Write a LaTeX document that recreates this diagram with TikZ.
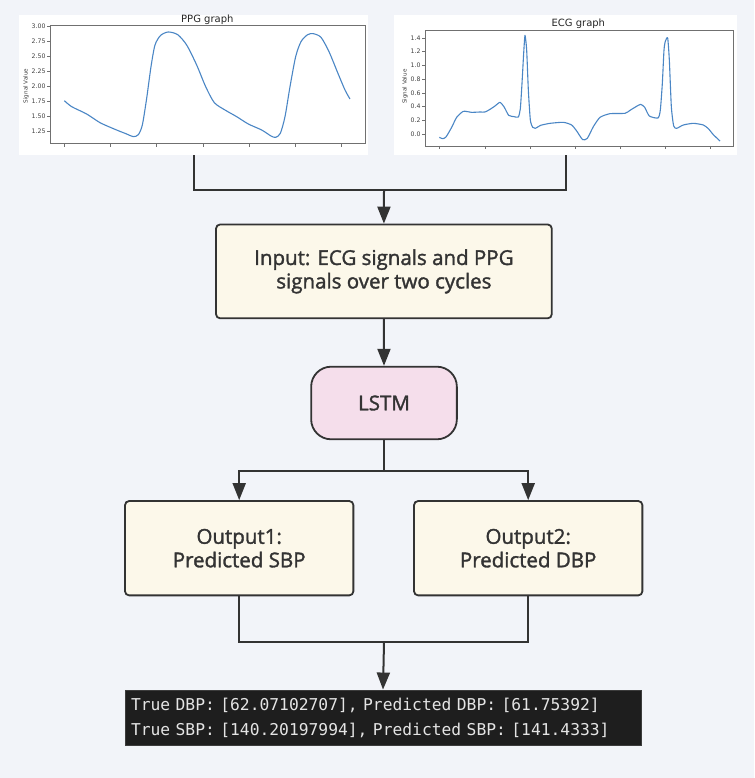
\documentclass[tikz,border=0pt]{standalone}
\usepackage{fontspec}
\setmainfont{Open Sans}[BoldFont={Open Sans},BoldFeatures={FakeBold=1.6}]
\newfontfamily\plotfont{DejaVu Sans}
\newfontfamily\termfont{DejaVu Sans Mono}
\usetikzlibrary{arrows.meta}
\definecolor{bgc}{HTML}{F2F4F9}
\definecolor{linec}{HTML}{333333}
\definecolor{boxfill}{HTML}{FCF8EA}
\definecolor{lstmfill}{HTML}{F5DEEB}
\definecolor{termbg}{HTML}{1E1E1E}
\definecolor{termedge}{HTML}{3C3C3C}
\definecolor{termtext}{HTML}{E4E4E4}
\definecolor{sigblue}{HTML}{4A86C5}
\definecolor{axisc}{HTML}{707070}
\definecolor{labc}{HTML}{404040}
\begin{document}
\begin{tikzpicture}[x=1pt,y=-1pt,
  conn/.style={draw=linec, line width=2pt},
  arr/.style={conn, -{Triangle[width=13pt,length=17pt]}},
  flowbox/.style={draw=linec, line width=1.8pt, fill=boxfill, rounded corners=4pt,
    text=linec, font=\bfseries\fontsize{20.5}{23.5}\selectfont, align=center, inner sep=0pt},
  lstmbox/.style={flowbox, fill=lstmfill, rounded corners=20pt},
  panel/.style={fill=white, draw=none, inner sep=0pt},
  termbox/.style={fill=termbg, draw=termedge, line width=0.8pt, text=termtext,
    font=\termfont\fontsize{16.3}{25}\selectfont, align=left, inner xsep=6pt, inner ysep=0pt},
  axisline/.style={draw=axisc, line width=0.6pt},
  ticklab/.style={text=labc, font=\plotfont\fontsize{6.2}{7}\selectfont, anchor=east, inner sep=0pt},
  ylab/.style={text=labc, font=\plotfont\fontsize{5.6}{7}\selectfont, rotate=90, inner sep=0pt},
  ptitle/.style={text=black!85, font=\plotfont\fontsize{10}{12}\selectfont, inner sep=0pt},
  signal/.style={draw=sigblue, line width=1.1pt, line join=round}
]
% background / bounding box
\path[fill=bgc, use as bounding box] (0,0) rectangle (754,778);

% ---------- graph panels ----------
\node[panel, minimum width=349pt, minimum height=140pt] (ppg) at (193.5,85) {};
\node[panel, minimum width=343pt, minimum height=140pt] (ecg) at (565.5,85) {};

% PPG plot (coordinates in 1/3 px)
\begin{scope}[shift={(15,10)}, x=0.33333pt, y=-0.33333pt]
  \draw[axisline] (105,45) rectangle (1050,400);
  \foreach \tx in {148,287,425,565,703,841,978} \draw[axisline, line width=0.5pt] (\tx,400) -- (\tx,410);
  \foreach \ty/\lab in {50/3.00,95/2.75,140/2.50,185/2.25,230/2.00,275/1.75,320/1.50,365/1.25} {
    \draw[axisline, line width=0.5pt] (96,\ty) -- (105,\ty);
    \node[ticklab] (ppgl\ty) at (92,\ty) {\lab};
  }
  \node[ylab] (ppgylab) at (33,228) {Signal Value};
  \node[ptitle] (ppgtitle) at (577,30) {PPG graph};
  \draw[signal] plot[smooth, tension=0.45] coordinates {
    (148,272) (170,290) (215,312) (255,338) (300,358) (335,372) (355,380) (370,374)
    (382,345) (395,265) (408,170) (420,105) (437,76) (460,66) (488,74) (515,105)
    (545,165) (572,230) (598,278) (630,300) (665,320) (700,342) (740,360) (768,378)
    (782,382) (796,370) (810,320) (825,230) (842,140) (858,95) (878,74) (895,71)
    (918,82) (942,125) (968,188) (990,240) (1005,267)};
\end{scope}

% ECG plot (coordinates in 1/3 px)
\begin{scope}[shift={(390,10)}, x=0.33333pt, y=-0.33333pt]
  \draw[axisline] (105,60) rectangle (1030,408);
  \foreach \tx in {148,285,420,555,690,825,962} \draw[axisline, line width=0.5pt] (\tx,408) -- (\tx,418);
  \foreach \ty/\lab in {86/1.4,125/1.2,166/1.0,208/0.8,250/0.6,290/0.4,331/0.2,372/0.0} {
    \draw[axisline, line width=0.5pt] (96,\ty) -- (105,\ty);
    \node[ticklab] (ecgl\ty) at (92,\ty) {\lab};
  }
  \node[ylab] (ecgylab) at (45,230) {Signal Value};
  \node[ptitle] (ecgtitle) at (565,40) {ECG graph};
  \draw[signal] plot[smooth, tension=0.35] coordinates {
    (148,382) (158,386) (168,381) (185,352) (200,322) (220,304) (245,307) (270,306)
    (285,306) (300,298) (315,288) (330,277) (343,292) (356,316) (372,320) (385,321)
    (391,296) (396,220) (401,130) (405,76) (410,120) (415,240) (421,330) (428,352)
    (436,355) (452,346) (480,340) (520,337) (545,345) (560,363) (578,389) (592,385)
    (610,350) (630,322) (660,311) (705,310) (720,301) (738,290) (752,283) (764,292)
    (778,318) (804,324) (811,300) (817,220) (822,120) (826,94) (833,84) (838,150)
    (844,290) (851,348) (860,355) (880,345) (910,340) (940,345) (955,356) (970,374)
    (990,393)};
\end{scope}

% ---------- flow nodes ----------
\node[flowbox, minimum width=335.7pt, minimum height=93.8pt] (input) at (383.9,271.4)
  {Input: ECG signals and PPG\\signals over two cycles};
\node[lstmbox, minimum width=145.7pt, minimum height=72.6pt] (lstm) at (384,403) {LSTM};
\node[flowbox, minimum width=228.3pt, minimum height=94.3pt] (out1) at (239.2,548.2)
  {Output1:\\Predicted SBP};
\node[flowbox, minimum width=228.3pt, minimum height=94.3pt] (out2) at (528.2,548.2)
  {Output2:\\Predicted DBP};
\node[termbox, text width=504pt, minimum height=55.5pt] (result) at (383,717.7)
  {True DBP: [62.07102707], Predicted DBP: [61.75392]\\True SBP: [140.20197994], Predicted SBP: [141.4333]};

% ---------- connectors ----------
\coordinate (j1) at (384,190);
\coordinate (j2) at (384,470.7);
\coordinate (j3) at (384,642.3);
\draw[conn] (ppg.south) |- (j1) -| (ecg.south);
\draw[arr] (j1) -- (input.north);
\draw[arr] (input.south) -- (lstm.north);
\draw[conn] (lstm.south) -- (j2);
\draw[arr] (j2) -| (out1.north);
\draw[arr] (j2) -| (out2.north);
\draw[conn] (out1.south) |- (j3);
\draw[conn] (out2.south) |- (j3);
\draw[arr] (j3) -- (result.north);
\end{tikzpicture}
\end{document}
